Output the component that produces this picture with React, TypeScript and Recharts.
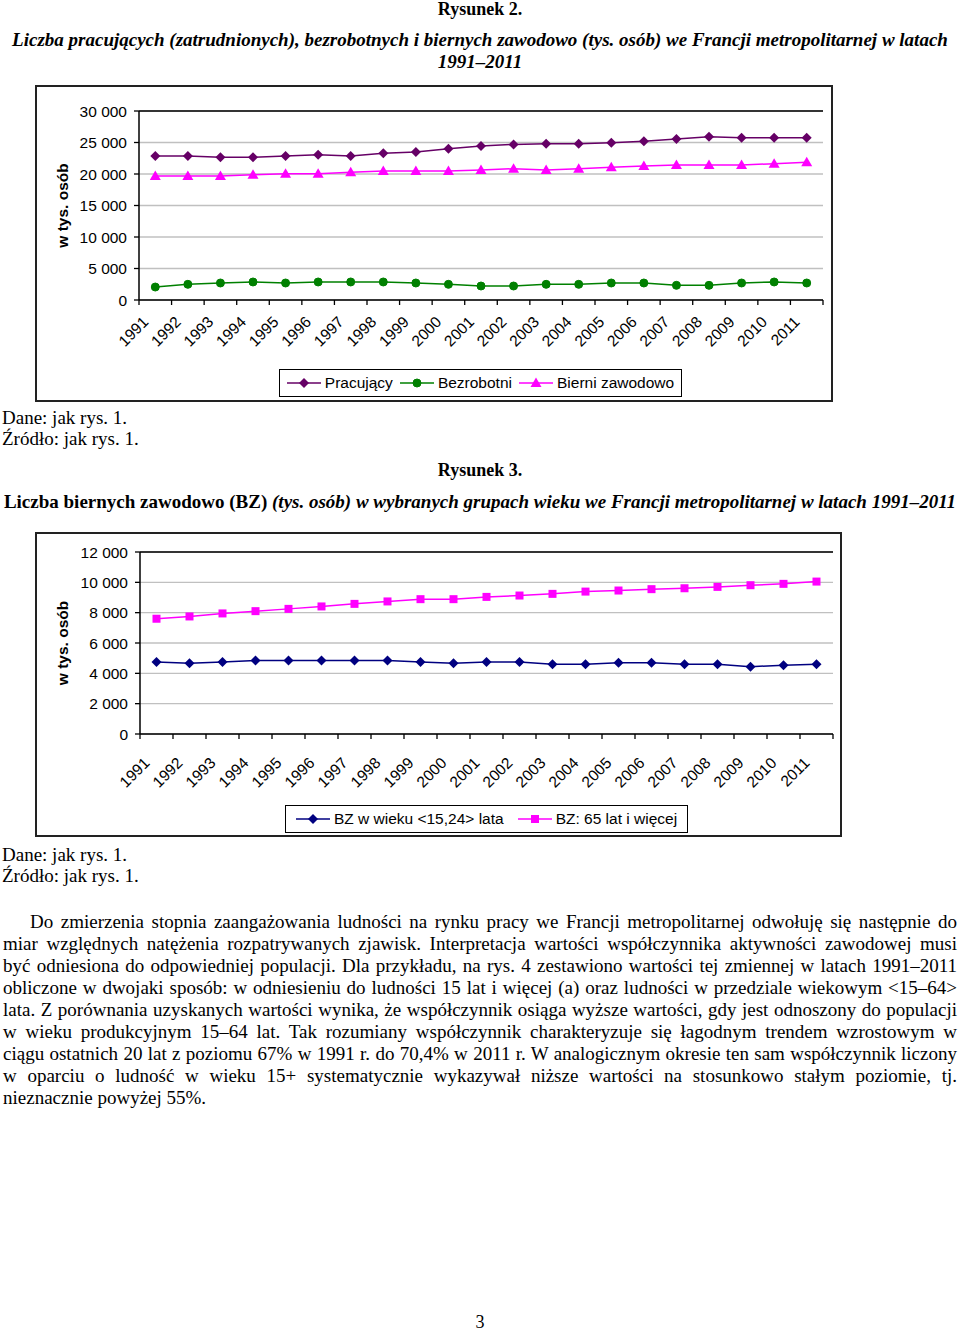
import React from 'react';
import {
  LineChart,
  Line,
  XAxis,
  YAxis,
  CartesianGrid,
  ReferenceLine,
  Legend,
} from 'recharts';

// lata
const years = [
  1991, 1992, 1993, 1994, 1995, 1996, 1997, 1998, 1999, 2000, 2001, 2002, 2003,
  2004, 2005, 2006, 2007, 2008, 2009, 2010, 2011,
];

// Rysunek 2 (tys. osób)
const pracujacy = [
  22860, 22860, 22650, 22650, 22860, 23070, 22860, 23280, 23490, 24020, 24440,
  24700, 24800, 24800, 24970, 25200, 25550, 25930, 25770, 25770, 25770,
];
const bezrobotni = [
  2060, 2490, 2700, 2860, 2700, 2860, 2860, 2860, 2700, 2490, 2220, 2220, 2490,
  2490, 2700, 2700, 2330, 2330, 2700, 2860, 2700,
];
const bierni = [
  19680, 19680, 19680, 19890, 20050, 20050, 20260, 20480, 20480, 20480, 20630,
  20850, 20630, 20850, 21060, 21270, 21430, 21430, 21430, 21640, 21850,
];

// Rysunek 3 (tys. osób)
const bz1524 = [
  4750, 4660, 4750, 4840, 4840, 4840, 4840, 4840, 4750, 4660, 4750, 4750, 4600,
  4600, 4690, 4690, 4600, 4600, 4440, 4530, 4600,
];
const bz65 = [
  7600, 7750, 7950, 8100, 8250, 8410, 8580, 8740, 8890, 8890, 9040, 9130, 9240,
  9390, 9460, 9550, 9610, 9700, 9810, 9900, 10050,
];

const ticks2 = [0, 5000, 10000, 15000, 20000, 25000, 30000];
const ticks3 = [0, 2000, 4000, 6000, 8000, 10000, 12000];

const paragraph = [
  'Do zmierzenia stopnia zaangażowania ludności na rynku pracy we Francji metropolitarnej odwołuję się następnie do',
  'miar względnych natężenia rozpatrywanych zjawisk. Interpretacja wartości współczynnika aktywności zawodowej musi',
  'być odniesiona do odpowiedniej populacji. Dla przykładu, na rys. 4 zestawiono wartości tej zmiennej w latach 1991–2011',
  'obliczone w dwojaki sposób: w odniesieniu do ludności 15 lat i więcej (a) oraz ludności w przedziale wiekowym <15–64>',
  'lata. Z porównania uzyskanych wartości wynika, że współczynnik osiąga wyższe wartości, gdy jest odnoszony do populacji',
  'w wieku produkcyjnym 15–64 lat. Tak rozumiany współczynnik charakteryzuje się łagodnym trendem wzrostowym w',
  'ciągu ostatnich 20 lat z poziomu 67% w 1991 r. do 70,4% w 2011 r. W analogicznym okresie ten sam współczynnik liczony',
  'w oparciu o ludność w wieku 15+ systematycznie wykazywał niższe wartości na stosunkowo stałym poziomie, tj.',
  'nieznacznie powyżej 55%.',
];

const data2 = years.map((y, i) => ({
  year: y,
  pracujacy: pracujacy[i],
  bezrobotni: bezrobotni[i],
  bierni: bierni[i],
}));
const data3 = years.map((y, i) => ({ year: y, bz1524: bz1524[i], bz65: bz65[i] }));

// granice kategorii (znaczniki osi) + środki kategorii (etykiety)
const xTicks = [...years.map((y) => y - 0.5), years[years.length - 1] + 0.5, ...years].sort(
  (a, b) => a - b
);

const SANS = '"Liberation Sans", Arial, sans-serif';
const SERIF = '"Liberation Serif", "Times New Roman", serif';

const fmt = (v: number) => String(v).replace(/\B(?=(\d{3})+(?!\d))/g, ' ');

type Shape = 'diamond' | 'circle' | 'triangle' | 'square';

const Marker = ({ cx, cy, shape, color }: { cx: number; cy: number; shape: Shape; color: string }) => {
  if (shape === 'circle') return <circle cx={cx} cy={cy} r={4} fill={color} stroke={color} />;
  if (shape === 'square') return <rect x={cx - 4} y={cy - 4} width={8} height={8} fill={color} />;
  if (shape === 'triangle')
    return <path d={`M${cx},${cy - 5.5}L${cx + 5.5},${cy + 4}L${cx - 5.5},${cy + 4}Z`} fill={color} />;
  return <path d={`M${cx},${cy - 5}L${cx + 5},${cy}L${cx},${cy + 5}L${cx - 5},${cy}Z`} fill={color} />;
};

const dotOf = (shape: Shape, color: string) => (p: any) =>
  <Marker key={p.index} cx={p.cx} cy={p.cy} shape={shape} color={color} />;

const YearTick = (props: any) => {
  const { x, y, payload, drop } = props;
  const v = payload.value;
  if (!Number.isInteger(v)) return <line x1={x} y1={y} x2={x} y2={y + 5} stroke="#000" strokeWidth={1.3} />;
  const tx = x - 6;
  const ty = y + drop;
  return (
    <text
      x={tx}
      y={ty}
      transform={`rotate(-45 ${tx} ${ty})`}
      textAnchor="end"
      fill="#000"
      fontSize={15.5}
      fontFamily={SANS}
    >
      {v}
    </text>
  );
};

// legenda w kolejności serii (Recharts domyślnie sortuje po nazwie)
const makeLegend = (shapes: Record<string, Shape>, gap: number) => (props: any) => {
  const order = Object.keys(shapes);
  const items = [...(props.payload || [])].sort(
    (a: any, b: any) => order.indexOf(a.dataKey) - order.indexOf(b.dataKey)
  );
  return (
    <div
      style={{
        border: '1.5px solid #000',
        boxSizing: 'border-box',
        height: 28,
        display: 'flex',
        alignItems: 'center',
        justifyContent: 'center',
        fontFamily: SANS,
        fontSize: 15.5,
        color: '#000',
        background: '#fff',
      }}
    >
      {items.map((e: any, i: number) => (
        <span key={i} style={{ display: 'flex', alignItems: 'center', marginLeft: i ? gap : 0 }}>
          <svg width={34} height={12} style={{ marginRight: 4 }}>
            <line x1={0} y1={6} x2={34} y2={6} stroke={e.color} strokeWidth={1.5} />
            <Marker cx={17} cy={6} shape={shapes[e.dataKey]} color={e.color} />
          </svg>
          {e.value}
        </span>
      ))}
    </div>
  );
};

const Txt = ({ top, left = 0, width = 960, align = 'left', size = 19, style, children }: any) => (
  <div
    style={{
      position: 'absolute',
      top,
      left,
      width,
      textAlign: align,
      fontFamily: SERIF,
      fontSize: size,
      lineHeight: '22px',
      color: '#000',
      whiteSpace: 'pre',
      ...style,
    }}
  >
    {children}
  </div>
);

const boxStyle = (left: number, top: number, width: number, height: number): React.CSSProperties => ({
  position: 'absolute',
  left,
  top,
  width,
  height,
  border: '2px solid #222',
  boxSizing: 'border-box',
  background: '#fff',
});

const yLabel = (value: string) => ({
  value,
  angle: -90,
  position: 'insideLeft' as const,
  offset: 25,
  style: { textAnchor: 'middle', fontWeight: 'bold', fontSize: 15.5, fontFamily: SANS, fill: '#000' },
});

const shapes2: Record<string, Shape> = { pracujacy: 'diamond', bezrobotni: 'circle', bierni: 'triangle' };
const shapes3: Record<string, Shape> = { bz1524: 'diamond', bz65: 'square' };

export default function App() {
  return (
    <div style={{ position: 'absolute', left: 0, top: 0, width: 960, height: 1331, background: '#fff' }}>
      <Txt top={-2} align="center" size={18} style={{ fontWeight: 'bold' }}>Rysunek 2.</Txt>
      <Txt top={29} align="center" style={{ fontWeight: 'bold', fontStyle: 'italic' }}>
        Liczba pracujących (zatrudnionych), bezrobotnych i biernych zawodowo (tys. osób) we Francji metropolitarnej w latach
      </Txt>
      <Txt top={51} align="center" style={{ fontWeight: 'bold', fontStyle: 'italic' }}>1991–2011</Txt>

      <div style={boxStyle(35, 85, 798, 317)}>
        <LineChart width={794} height={313} data={data2} margin={{ top: 24, right: 8, left: 0, bottom: 0 }}>
          <CartesianGrid vertical={false} stroke="#c0c0c0" strokeWidth={1.3} />
          <XAxis
            dataKey="year"
            type="number"
            domain={[1990.5, 2011.5]}
            ticks={xTicks}
            interval={0}
            height={100}
            tickSize={0}
            tickMargin={0}
            tickLine={false}
            axisLine={{ stroke: '#000', strokeWidth: 1.5 }}
            tick={(p: any) => <YearTick {...p} drop={23} />}
          />
          <YAxis
            domain={[0, 30000]}
            ticks={ticks2}
            interval={0}
            width={102}
            tickSize={5}
            tickMargin={7}
            tickFormatter={fmt}
            tickLine={{ stroke: '#000', strokeWidth: 1.3 }}
            axisLine={{ stroke: '#000', strokeWidth: 1.5 }}
            tick={{ fill: '#000', fontSize: 15.5, fontFamily: SANS }}
            label={yLabel('w tys. osób')}
          />
          <YAxis yAxisId="r" orientation="right" width={0} domain={[0, 30000]} tick={false} tickLine={false} axisLine={{ stroke: '#000', strokeWidth: 1.5 }} />
          <ReferenceLine y={30000} stroke="#000" strokeWidth={1.5} />
          <Legend
            layout="horizontal"
            verticalAlign="middle"
            align="center"
            wrapperStyle={{ left: 242, top: 282, width: 403, height: 28 }}
            content={makeLegend(shapes2, 7)}
          />
          <Line dataKey="pracujacy" name="Pracujący" stroke="#660066" strokeWidth={1.5} dot={dotOf('diamond', '#660066')} activeDot={false} isAnimationActive={false} />
          <Line dataKey="bezrobotni" name="Bezrobotni" stroke="#008000" strokeWidth={1.5} dot={dotOf('circle', '#008000')} activeDot={false} isAnimationActive={false} />
          <Line dataKey="bierni" name="Bierni zawodowo" stroke="#FF00FF" strokeWidth={1.5} dot={dotOf('triangle', '#FF00FF')} activeDot={false} isAnimationActive={false} />
        </LineChart>
      </div>

      <Txt top={407} left={2}>Dane: jak rys. 1.</Txt>
      <Txt top={428} left={2}>Źródło: jak rys. 1.</Txt>
      <Txt top={459} align="center" size={18} style={{ fontWeight: 'bold' }}>Rysunek 3.</Txt>
      <Txt top={491} align="center" style={{ fontWeight: 'bold' }}>
        Liczba biernych zawodowo (BZ) <span style={{ fontStyle: 'italic' }}>(tys. osób) w wybranych grupach wieku we Francji metropolitarnej w latach 1991–2011</span>
      </Txt>

      <div style={boxStyle(35, 532, 807, 305)}>
        <LineChart width={803} height={301} data={data3} margin={{ top: 18, right: 7, left: 0, bottom: 0 }}>
          <CartesianGrid vertical={false} stroke="#c0c0c0" strokeWidth={1.3} />
          <XAxis
            dataKey="year"
            type="number"
            domain={[1990.5, 2011.5]}
            ticks={xTicks}
            interval={0}
            height={101}
            tickSize={0}
            tickMargin={0}
            tickLine={false}
            axisLine={{ stroke: '#000', strokeWidth: 1.5 }}
            tick={(p: any) => <YearTick {...p} drop={30} />}
          />
          <YAxis
            domain={[0, 12000]}
            ticks={ticks3}
            interval={0}
            width={103}
            tickSize={5}
            tickMargin={7}
            tickFormatter={fmt}
            tickLine={{ stroke: '#000', strokeWidth: 1.3 }}
            axisLine={{ stroke: '#000', strokeWidth: 1.5 }}
            tick={{ fill: '#000', fontSize: 15.5, fontFamily: SANS }}
            label={yLabel('w tys. osób')}
          />
          <YAxis yAxisId="r" orientation="right" width={0} domain={[0, 12000]} tick={false} tickLine={false} axisLine={{ stroke: '#000', strokeWidth: 1.5 }} />
          <ReferenceLine y={12000} stroke="#000" strokeWidth={1.5} />
          <Legend
            layout="horizontal"
            verticalAlign="middle"
            align="center"
            wrapperStyle={{ left: 248, top: 271, width: 403, height: 28 }}
            content={makeLegend(shapes3, 14)}
          />
          <Line dataKey="bz1524" name="BZ w wieku <15,24> lata" stroke="#000080" strokeWidth={1.5} dot={dotOf('diamond', '#000080')} activeDot={false} isAnimationActive={false} />
          <Line dataKey="bz65" name="BZ: 65 lat i więcej" stroke="#FF00FF" strokeWidth={1.5} dot={dotOf('square', '#FF00FF')} activeDot={false} isAnimationActive={false} />
        </LineChart>
      </div>

      <Txt top={844} left={2}>Dane: jak rys. 1.</Txt>
      <Txt top={865} left={2}>Źródło: jak rys. 1.</Txt>

      {paragraph.map((line, i) => {
        const last = i === paragraph.length - 1;
        return (
          <div
            key={i}
            style={{
              position: 'absolute',
              top: 911 + i * 22,
              left: i === 0 ? 30 : 3,
              width: i === 0 ? 927 : 954,
              fontFamily: SERIF,
              fontSize: 19,
              lineHeight: '22px',
              color: '#000',
              textAlign: last ? 'left' : 'justify',
              textAlignLast: last ? 'left' : 'justify',
            }}
          >
            {line}
          </div>
        );
      })}

      <Txt top={1311} align="center" size={18}>3</Txt>
    </div>
  );
}
